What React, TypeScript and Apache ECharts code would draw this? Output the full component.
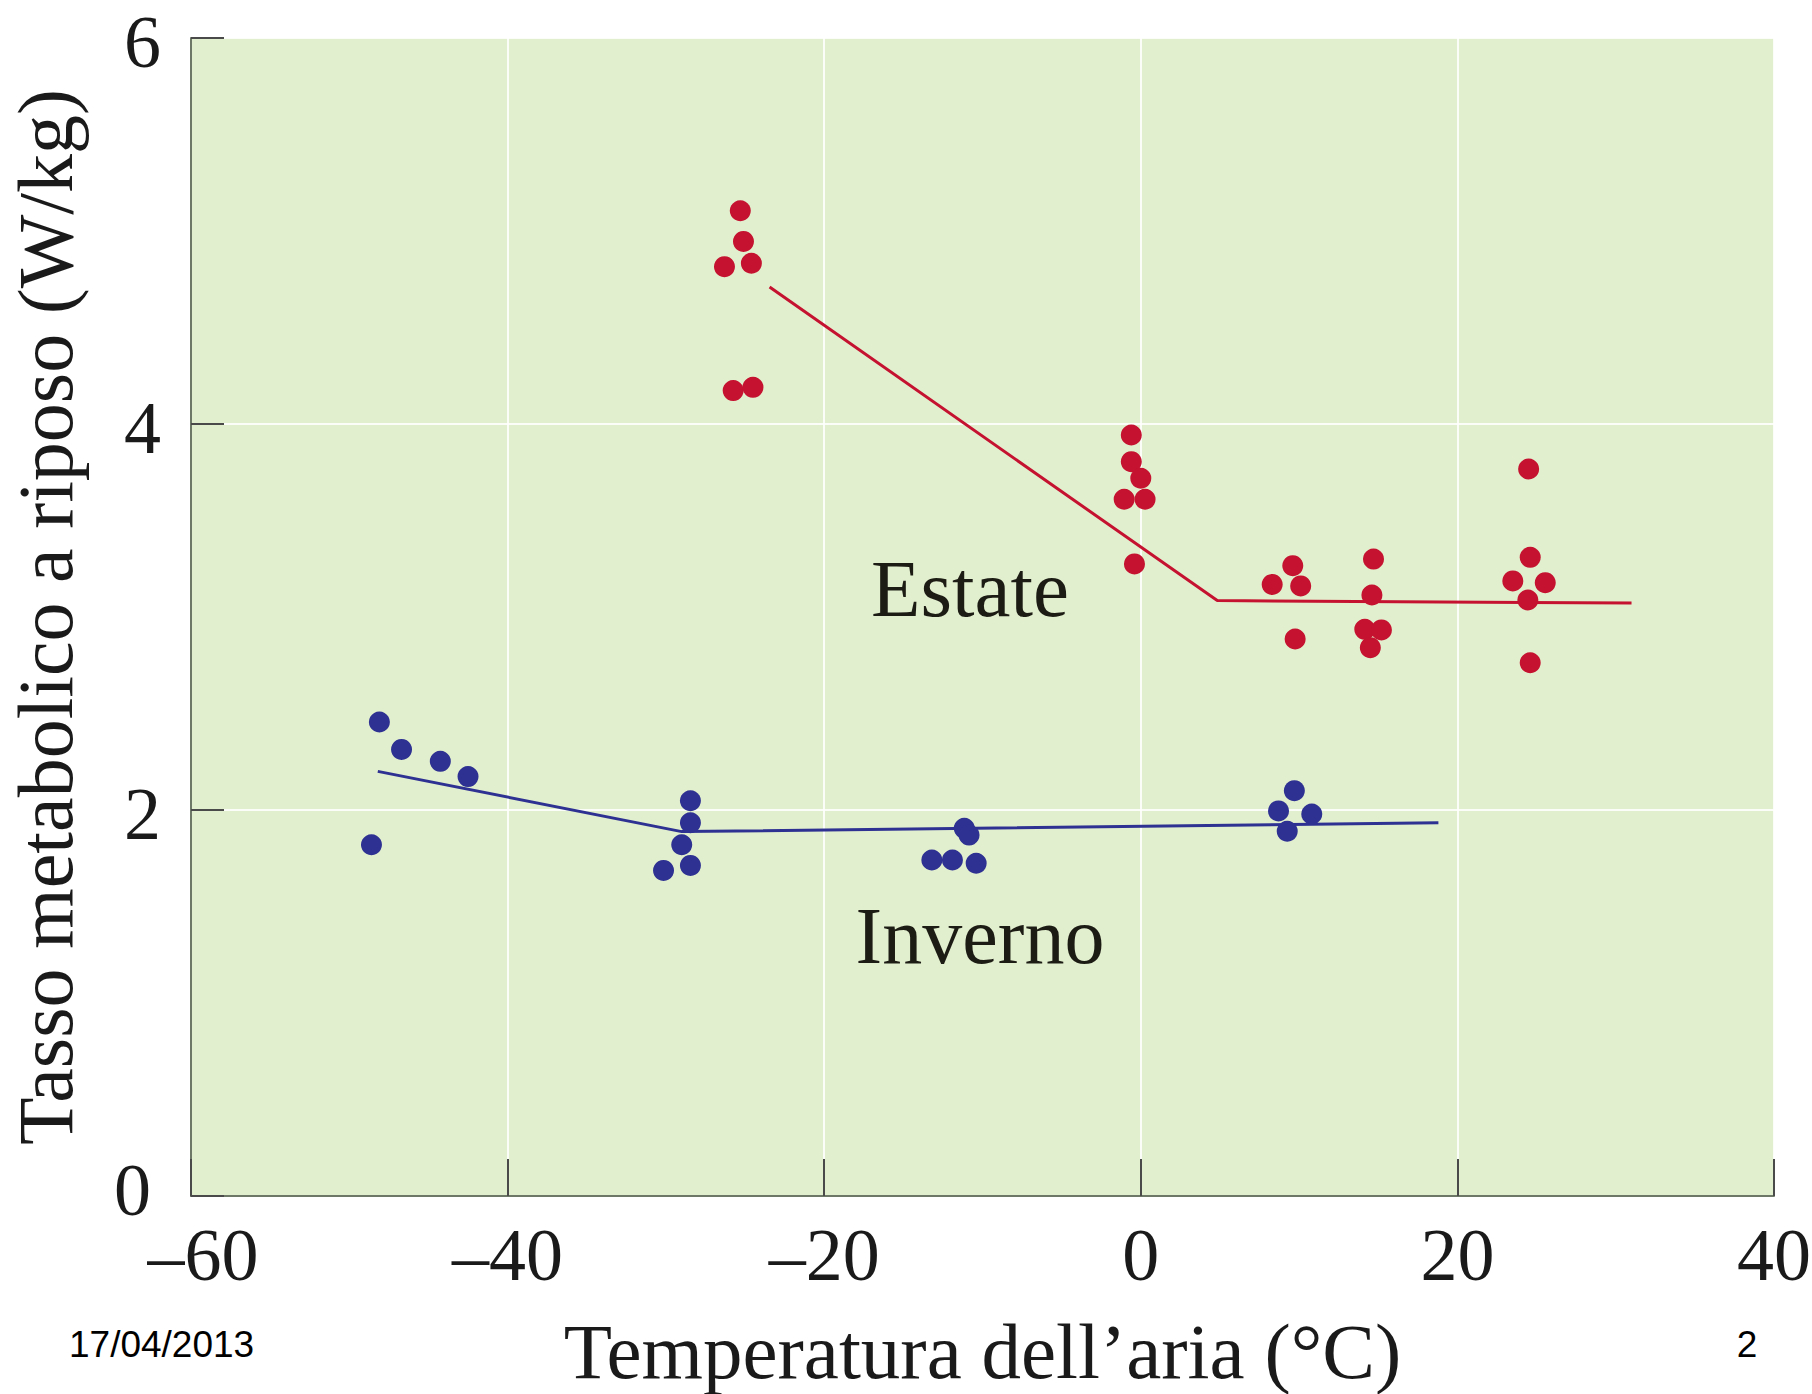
import React, { useEffect, useRef } from "react";
import * as echarts from "echarts";

// Estate (summer) measurements
const estateTemp = [-25.3, -25.1, -26.3, -24.6, -25.75, -24.5, -0.6, -0.6, 0.0, -1.05, 0.27, -0.4, 8.3, 9.6, 10.1, 9.75, 14.7, 14.6, 14.15, 15.2, 14.5, 24.5, 24.6, 23.5, 25.55, 24.45, 24.6];
const estateRate = [5.105, 4.946, 4.815, 4.833, 4.173, 4.19, 3.943, 3.805, 3.719, 3.61, 3.61, 3.275, 3.169, 3.266, 3.161, 2.886, 3.3, 3.114, 2.936, 2.933, 2.841, 3.767, 3.309, 3.187, 3.178, 3.088, 2.763];

// Inverno (winter) measurements
const invernoTemp = [-48.1, -46.7, -44.25, -42.5, -48.6, -28.45, -28.45, -29.0, -30.15, -28.45, -13.2, -11.9, -10.4, -11.15, -10.85, 9.7, 8.7, 10.8, 9.25];
const invernoRate = [2.456, 2.314, 2.252, 2.173, 1.82, 2.048, 1.934, 1.82, 1.687, 1.713, 1.741, 1.741, 1.724, 1.905, 1.87, 2.1, 1.995, 1.979, 1.89];

// Fitted broken lines
const estateFitTemp = [-23.45, 4.83, 31.0];
const estateFitRate = [4.71, 3.085, 3.072];
const invernoFitTemp = [-48.2, -29.0, 18.8];
const invernoFitRate = [2.2, 1.888, 1.934];

// Axes
const xMin = -60;
const xMax = 40;
const xStep = 20;
const yMin = 0;
const yMax = 6;
const yStep = 2;

const xTitle = "Temperatura dell\u2019aria (\u00b0C)";
const yTitle = "Tasso metabolico a riposo (W/kg)";
const seriesNames = ["Estate", "Inverno"];
const footerDate = "17/04/2013";
const footerPage = "2";

const RED = "#C41230";
const BLUE = "#2E3192";
const SERIF = "'Liberation Serif', 'Times New Roman', serif";
const SANS = "'Liberation Sans', Arial, sans-serif";
const TEXT = "#1a1a1a";

const zip = (a: number[], b: number[]) => a.map((v, i) => [v, b[i]]);

const tickFont = { fontFamily: SERIF, fontSize: 74, lineHeight: 50, color: TEXT };

export default function App() {
  const ref = useRef<HTMLDivElement>(null);
  useEffect(() => {
    if (!ref.current) return;
    const chart = echarts.init(ref.current, null, { renderer: "svg" });
    chart.setOption({
      animation: false,
      backgroundColor: "#ffffff",
      grid: {
        left: 191,
        right: 38,
        top: 38,
        bottom: 198,
        containLabel: false,
        outerBoundsMode: "none",
        show: true,
        backgroundColor: "#E2EFCE",
        borderWidth: 0,
      },
      xAxis: {
        type: "value",
        min: xMin,
        max: xMax,
        interval: xStep,
        name: xTitle,
        nameLocation: "middle",
        nameGap: 116,
        nameTextStyle: { fontFamily: SERIF, fontSize: 79, color: TEXT },
        axisLine: { show: true, onZero: false, lineStyle: { color: "#6E7866", width: 2 } },
        axisTick: { show: true, inside: true, length: 37, lineStyle: { color: "#4a4a4a", width: 2 } },
        axisLabel: {
          ...tickFont,
          margin: 34,
          formatter: (v: number) => {
            const s = v < 0 ? "\u2013" + Math.abs(v) : String(v);
            return v === xMin ? "{first|" + s + "}" : "{n|" + s + "}";
          },
          rich: {
            first: { ...tickFont, padding: [0, 0, 0, 24] },
            n: { ...tickFont },
          },
        },
        splitLine: { show: true, lineStyle: { color: "rgba(255,255,255,0.85)", width: 2 } },
      },
      yAxis: {
        type: "value",
        min: yMin,
        max: yMax,
        interval: yStep,
        name: yTitle,
        nameLocation: "middle",
        nameGap: 107,
        nameTextStyle: { fontFamily: SERIF, fontSize: 78, color: TEXT },
        axisLine: { show: true, onZero: false, lineStyle: { color: "#6E7866", width: 2 } },
        axisTick: { show: true, inside: true, length: 33, lineStyle: { color: "#4a4a4a", width: 2 } },
        axisLabel: {
          ...tickFont,
          margin: 30,
          formatter: (v: number) => (v === yMin ? "{zero|" + v + "}" : "{n|" + v + "}"),
          rich: {
            zero: { ...tickFont, padding: [0, 10, 12, 0] },
            n: { ...tickFont, padding: [8, 0, 0, 0] },
          },
        },
        splitLine: { show: true, lineStyle: { color: "rgba(255,255,255,0.85)", width: 2 } },
      },
      series: [
        {
          name: seriesNames[0] + " fit",
          type: "line",
          data: zip(estateFitTemp, estateFitRate),
          symbol: "none",
          lineStyle: { color: RED, width: 3 },
          z: 2,
        },
        {
          name: seriesNames[1] + " fit",
          type: "line",
          data: zip(invernoFitTemp, invernoFitRate),
          symbol: "none",
          lineStyle: { color: BLUE, width: 3 },
          z: 2,
        },
        {
          name: seriesNames[0],
          type: "scatter",
          data: zip(estateTemp, estateRate),
          symbolSize: 21,
          itemStyle: { color: RED, opacity: 1 },
          z: 3,
        },
        {
          name: seriesNames[1],
          type: "scatter",
          data: zip(invernoTemp, invernoRate),
          symbolSize: 21,
          itemStyle: { color: BLUE, opacity: 1 },
          z: 3,
        },
      ],
      graphic: [
        {
          type: "text",
          x: 970,
          y: 589,
          z: 10,
          style: { text: seriesNames[0], fontFamily: SERIF, fontSize: 81, fill: "#1c1c14", align: "center", verticalAlign: "middle" },
        },
        {
          type: "text",
          x: 980,
          y: 936,
          z: 10,
          style: { text: seriesNames[1], fontFamily: SERIF, fontSize: 80, fill: "#1c1c14", align: "center", verticalAlign: "middle" },
        },
        {
          type: "text",
          x: 69,
          y: 1344,
          style: { text: footerDate, fontFamily: SANS, fontSize: 37, fill: "#000000", align: "left", verticalAlign: "middle" },
        },
        {
          type: "text",
          x: 1747,
          y: 1344,
          style: { text: footerPage, fontFamily: SANS, fontSize: 37, fill: "#000000", align: "center", verticalAlign: "middle" },
        },
      ],
    });
    return () => chart.dispose();
  }, []);
  return (
    <div
      ref={ref}
      style={{ position: "fixed", left: 0, top: 0, width: 1812, height: 1394, background: "#ffffff" }}
    />
  );
}
